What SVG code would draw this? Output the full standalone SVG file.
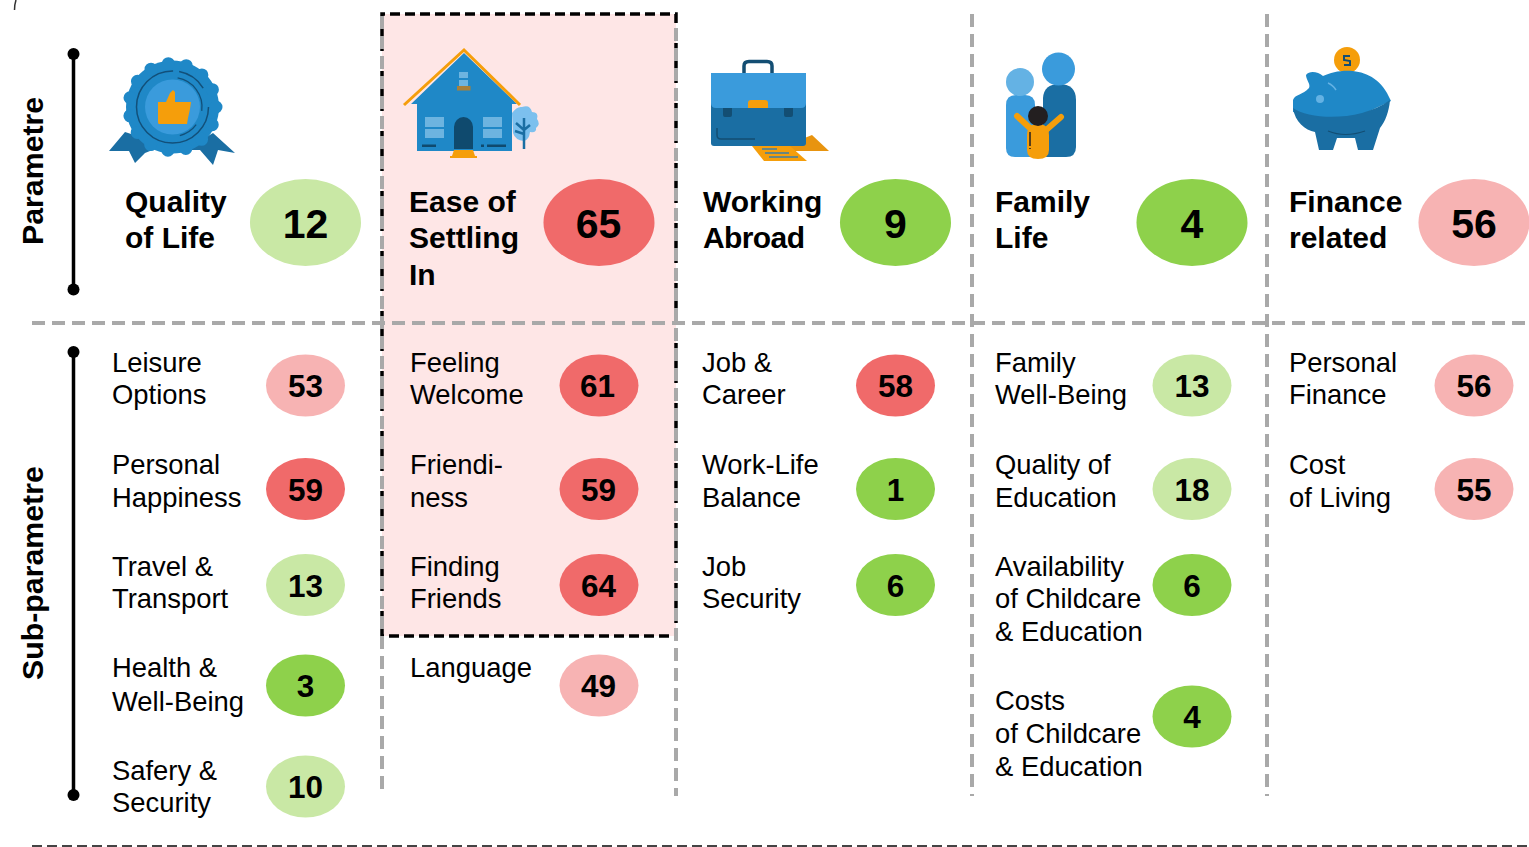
<svg xmlns="http://www.w3.org/2000/svg" width="1529" height="847" viewBox="0 0 1529 847">
<style>
text{font-family:"Liberation Sans",Arial,sans-serif;fill:#000}
.t{font-weight:700;font-size:30px}
.r{font-weight:700;font-size:30.300px}
.l{font-size:27.4px}
.nb{font-weight:700;font-size:41px;text-anchor:middle}
.ns{font-weight:700;font-size:31.5px;text-anchor:middle}
.gd{stroke:#a9a9a9;stroke-width:4;stroke-dasharray:13 7;fill:none}
.bd{stroke:#000;stroke-width:3.5;stroke-dasharray:10 5;fill:none}
.lg{fill:#c9e8a5}.rd{fill:#f06a6a}.gr{fill:#8ed14b}.pk{fill:#f7b3b3}
.b1{fill:#1f88c7}.b2{fill:#1a6ea3}.b3{fill:#3a9bdc}.b4{fill:#64b2e4}.or{fill:#f59e0b}.dk{fill:#0f4a6e}
</style>
<rect id="highlight" x="382" y="14" width="294" height="622" fill="#fee6e6"/>
<g id="connectors">
<path class="bd" d="M382 636V14H676V636Z"/>
<path class="gd" d="M382 16V796M676 28V796M972 14V796M1267 14V796"/>
<path class="gd" d="M32 323H1525"/>
<path d="M32 846H1529" fill="none" stroke="#444" stroke-width="2" stroke-dasharray="10 5"/>
<path d="M14.500 10C14.500 6 15 3 16 0" fill="none" stroke="#333" stroke-width="1.500"/>
<path d="M73.500 54V289M73.500 352V795" stroke="#000" stroke-width="3.500" fill="none"/>
<circle cx="73.500" cy="54" r="6"/><circle cx="73.500" cy="289.500" r="6"/><circle cx="73.500" cy="352" r="6"/><circle cx="73.500" cy="795" r="6"/>
</g>
<g id="axis-parametre"><text class="r" transform="translate(43 245) rotate(-90)">Parametre</text></g>
<g id="axis-sub-parametre"><text class="r" transform="translate(43 680) rotate(-90)">Sub-parametre</text></g>

<g id="quality-of-life">
<path class="b2" d="M109 151L125 132L165 145L145 153L135 163L129 151ZM235 153L213 133L185 150L200 150L213 165L218 150Z"/>
<circle class="b1" cx="172.500" cy="107" r="46.500"/>
<circle cx="172.500" cy="107" r="43.500" fill="none" stroke="#1f88c7" stroke-width="13" stroke-linecap="round" stroke-dasharray="0 18.220"/>
<circle class="b3" cx="172.500" cy="107" r="27.500"/>
<circle cx="172.500" cy="107" r="36" fill="none" stroke="#12507a" stroke-width="1.500" stroke-dasharray="170 6 30 20"/>
<circle cx="172.500" cy="107" r="29.500" fill="none" stroke="#12507a" stroke-width="1.300" stroke-dasharray="45 15 20 200" transform="rotate(-80 172.500 107)"/>
<path class="or" d="M158 102H166L170 93L173 90L175 92V102H191L190 109L188 118L187 124H159Q158 124 158 122Z"/>
<text class="t" x="125" y="212">Quality</text><text class="t" x="125" y="248">of Life</text>
<ellipse class="lg" cx="305.500" cy="222.500" rx="55.500" ry="43.500"/><text class="nb" x="305.500" y="238">12</text>
</g>
<g id="ease-of-settling-in">
<path class="b1" d="M417 151V104H411L464 53L517 104H512V151Z"/>
<path d="M404 105L464 50L520 105" fill="none" stroke="#f59e0b" stroke-width="3"/>
<path fill="#6db4e0" d="M425 117H444V127H425ZM425 129H444V138H425ZM483 117H502V127H483ZM483 129H502V138H483ZM459 72H468V78H459ZM459 80H468V86H459Z"/>
<rect x="457" y="86" width="13.500" height="4.500" fill="#a8803a"/>
<path class="dk" d="M454 149V127A9.500 10 0 0 1 473 127V149Z"/>
<path class="or" d="M454 150H473L475 156H452ZM450 156H477V158H450Z"/>
<path class="dk" d="M422 144.500H436V147H422ZM481 144.500H484V147H481ZM487 144.500H506V147H487Z"/>
<path fill="#7cc0ee" d="M512 113Q517 106 522 107Q530 104 532 112Q539 112 537 119Q541 124 536 128Q537 133 530 132Q529 140 524 141Q515 140 513 133Z"/>
<path d="M524 118V149M524 130L516 123M524 134L515 131M524 130L530 125" stroke="#1a6ea3" stroke-width="2.500" fill="none"/>
<text class="t" x="409" y="212">Ease of</text><text class="t" x="409" y="248">Settling</text><text class="t" x="409" y="285">In</text>
<ellipse class="rd" cx="599" cy="222.500" rx="55.500" ry="43.500"/><text class="nb" x="598.500" y="238">65</text>
</g>
<g id="working-abroad">
<path fill="#e8940f" d="M785 146L812 135L829 151H795Z"/>
<path class="or" d="M752 146H790L807 161H764Z"/>
<path d="M762 149H777M765 153H789M769 157H798" stroke="#3b7fa8" stroke-width="1.500" fill="none"/>
<path d="M744 73V66Q744 61.500 749 61.500H767Q772 61.500 772 66V73" fill="none" stroke="#134e73" stroke-width="3.500"/>
<path class="b2" d="M711 100H806V143Q806 146 803 146H714Q711 146 711 143Z"/>
<path class="b3" d="M711 73H806V103Q806 108 801 108H716Q711 108 711 103Z"/>
<path class="or" d="M748 108V103Q748 100 751 100H765Q768 100 768 103V108Z"/>
<path d="M723 108H732V115Q732 117 730 117H725Q723 117 723 115ZM784 108H793V115Q793 117 791 117H786Q784 117 784 115Z" fill="#134e73"/>
<path d="M717 128V135Q717 139 721 139H755" fill="none" stroke="#134e73" stroke-width="1.500"/>
<text class="t" x="703" y="212">Working</text><text class="t" x="703" y="248" textLength="102" lengthAdjust="spacing">Abroad</text>
<ellipse class="gr" cx="895.500" cy="222.500" rx="55.500" ry="43.500"/><text class="nb" x="895.500" y="238">9</text>
</g>
<g id="family-life">
<path class="b2" d="M1043 98Q1044 84 1059 84Q1076 84 1076 100V147Q1076 157 1066 157H1043Z"/>
<circle class="b3" cx="1058.500" cy="69" r="16.500"/>
<path class="b3" d="M1006 105Q1006 95 1016 95H1025Q1035 95 1035 105V157H1015Q1006 157 1006 148Z"/>
<circle class="b4" cx="1020" cy="82" r="14"/>
<path d="M1017 116L1033 131M1061 117L1045 131" stroke="#f59e0b" stroke-width="6" stroke-linecap="round" fill="none"/>
<path class="or" d="M1027 135Q1027 124 1038 124Q1049 124 1049 135V150Q1049 159 1038 159Q1027 159 1027 150Z"/>
<circle cx="1038" cy="116" r="10" fill="#231f20"/>
<path d="M1030 132L1030 146M1030 148V149" stroke="#231f20" stroke-width="1.500" fill="none"/>
<text class="t" x="995" y="212">Family</text><text class="t" x="995" y="248">Life</text>
<ellipse class="gr" cx="1192" cy="222.500" rx="55.500" ry="43.500"/><text class="nb" x="1192" y="238">4</text>
</g>
<g id="finance-related">
<circle class="or" cx="1347" cy="60" r="13"/>
<path d="M1350 56L1344 56L1344 60L1350 61L1350 65L1344 65" fill="none" stroke="#134e73" stroke-width="2"/>
<path class="b1" d="M1293 100C1295 94 1303 95 1309 88C1311 84 1306 80 1306 75C1310 70 1318 72 1323 76C1340 68 1372 66 1387 93L1391 101L1340 125L1293 112Z"/>
<path class="b2" d="M1293 108C1310 120 1360 122 1390 100C1389 112 1385 122 1380 128L1373 150H1358L1355 138H1337L1333 150H1319L1315 132C1305 130 1295 122 1293 108Z"/>
<circle cx="1320" cy="99" r="4" fill="#64b2e4"/>
<path d="M1328 83Q1333 85 1336 90" stroke="#64b2e4" stroke-width="1.500" fill="none"/>
<path d="M1328 131Q1345 138 1365 131" stroke="#134e73" stroke-width="1.200" fill="none"/>
<text class="t" x="1289" y="212">Finance</text><text class="t" x="1289" y="248">related</text>
<ellipse class="pk" cx="1474" cy="222.500" rx="55.500" ry="43.500"/><text class="nb" x="1474" y="238">56</text>
</g>

<g id="leisure-options"><text class="l" x="112" y="372">Leisure</text><text class="l" x="112" y="404">Options</text><ellipse class="pk" cx="305.500" cy="385.500" rx="39.500" ry="31"/><text class="ns" x="305.500" y="397">53</text></g>
<g id="personal-happiness"><text class="l" x="112" y="474">Personal</text><text class="l" x="112" y="507">Happiness</text><ellipse class="rd" cx="305.500" cy="489" rx="39.500" ry="31"/><text class="ns" x="305.500" y="501">59</text></g>
<g id="travel-transport"><text class="l" x="112" y="576">Travel &amp;</text><text class="l" x="112" y="608">Transport</text><ellipse class="lg" cx="305.500" cy="585" rx="39.500" ry="31"/><text class="ns" x="305.500" y="597">13</text></g>
<g id="health-well-being"><text class="l" x="112" y="677">Health &amp;</text><text class="l" x="112" y="711">Well-Being</text><ellipse class="gr" cx="305.500" cy="685.500" rx="39.500" ry="31"/><text class="ns" x="305.500" y="697">3</text></g>
<g id="safety-security"><text class="l" x="112" y="780">Safery &amp;</text><text class="l" x="112" y="812">Security</text><ellipse class="lg" cx="305.500" cy="786.500" rx="39.500" ry="31"/><text class="ns" x="305.500" y="798">10</text></g>

<g id="feeling-welcome"><text class="l" x="410" y="372">Feeling</text><text class="l" x="410" y="404">Welcome</text><ellipse class="rd" cx="599" cy="385.500" rx="39.500" ry="31"/><text class="ns" x="597.500" y="397">61</text></g>
<g id="friendliness"><text class="l" x="410" y="474">Friendi-</text><text class="l" x="410" y="507">ness</text><ellipse class="rd" cx="599" cy="489" rx="39.500" ry="31"/><text class="ns" x="598.500" y="501">59</text></g>
<g id="finding-friends"><text class="l" x="410" y="576">Finding</text><text class="l" x="410" y="608">Friends</text><ellipse class="rd" cx="599" cy="585" rx="39.500" ry="31"/><text class="ns" x="598.500" y="597">64</text></g>
<g id="language"><text class="l" x="410" y="677">Language</text><ellipse class="pk" cx="599" cy="685.500" rx="39.500" ry="31"/><text class="ns" x="598.500" y="697">49</text></g>

<g id="job-career"><text class="l" x="702" y="372">Job &amp;</text><text class="l" x="702" y="404">Career</text><ellipse class="rd" cx="895.500" cy="385.500" rx="39.500" ry="31"/><text class="ns" x="895.500" y="397">58</text></g>
<g id="work-life-balance"><text class="l" x="702" y="474">Work-Life</text><text class="l" x="702" y="507">Balance</text><ellipse class="gr" cx="895.500" cy="489" rx="39.500" ry="31"/><text class="ns" x="895.500" y="501">1</text></g>
<g id="job-security"><text class="l" x="702" y="576">Job</text><text class="l" x="702" y="608">Security</text><ellipse class="gr" cx="895.500" cy="585" rx="39.500" ry="31"/><text class="ns" x="895.500" y="597">6</text></g>

<g id="family-well-being"><text class="l" x="995" y="372">Family</text><text class="l" x="995" y="404">Well-Being</text><ellipse class="lg" cx="1192" cy="385.500" rx="39.500" ry="31"/><text class="ns" x="1192" y="397">13</text></g>
<g id="quality-of-education"><text class="l" x="995" y="474">Quality of</text><text class="l" x="995" y="507">Education</text><ellipse class="lg" cx="1192" cy="489" rx="39.500" ry="31"/><text class="ns" x="1192" y="501">18</text></g>
<g id="availability-childcare"><text class="l" x="995" y="576">Availability</text><text class="l" x="995" y="608">of Childcare</text><text class="l" x="995" y="641">&amp; Education</text><ellipse class="gr" cx="1192" cy="585" rx="39.500" ry="31"/><text class="ns" x="1192" y="597">6</text></g>
<g id="costs-childcare"><text class="l" x="995" y="710">Costs</text><text class="l" x="995" y="743">of Childcare</text><text class="l" x="995" y="776">&amp; Education</text><ellipse class="gr" cx="1192" cy="716.500" rx="39.500" ry="31"/><text class="ns" x="1192" y="728">4</text></g>

<g id="personal-finance"><text class="l" x="1289" y="372">Personal</text><text class="l" x="1289" y="404">Finance</text><ellipse class="pk" cx="1474" cy="385.500" rx="39.500" ry="31"/><text class="ns" x="1474" y="397">56</text></g>
<g id="cost-of-living"><text class="l" x="1289" y="474">Cost</text><text class="l" x="1289" y="507">of Living</text><ellipse class="pk" cx="1474" cy="489" rx="39.500" ry="31"/><text class="ns" x="1474" y="501">55</text></g>
</svg>
